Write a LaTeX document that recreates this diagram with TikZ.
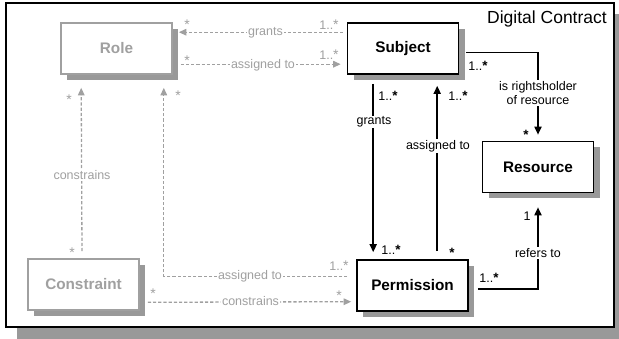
\documentclass[tikz,border=0pt]{standalone}
\usepackage{fontspec}
\setmainfont{Liberation Sans}
\usetikzlibrary{shadows,arrows.meta,calc}
\definecolor{shadowgray}{HTML}{999999}
\definecolor{lgray}{HTML}{A0A0A0}
\newcommand\mystar{{\fontsize{14}{14}\selectfont *}}
\newcommand\mybstar{{\fontsize{13.5}{14}\selectfont\bfseries *}}
\begin{document}
\begin{tikzpicture}[x=1pt,y=-1pt,
  box/.style={draw=black, line width=1.6pt, fill=white, minimum width=111pt, minimum height=51pt,
    font=\fontsize{15.3}{17}\selectfont\bfseries,
    drop shadow={shadow xshift=6pt,shadow yshift=-6pt,fill=shadowgray,opacity=1}},
  gbox/.style={box, draw=lgray, text=lgray},
  lbl/.style={font=\fontsize{12.5}{14.5}\selectfont, inner sep=1pt},
  glbl/.style={lbl, text=lgray},
  bg/.style={fill=white},
  gline/.style={draw=lgray, line width=1.3pt, dash pattern=on 3.2pt off 2pt},
  bline/.style={draw=black, line width=1.7pt},
  garr/.style={-{Triangle[length=7.5pt,width=6.5pt]}},
  barr/.style={-{Triangle[length=8pt,width=7pt]}}
]
\useasboundingbox (0,0) rectangle (619,339);
% frame
\fill[shadowgray] (17,14) rectangle (619,339);
\draw[line width=2pt, fill=white] (5.5,3.5) rectangle (613.5,327.5);
\node[anchor=east, inner sep=0pt, font=\fontsize{17.5}{19}\selectfont] (title) at (607,19) {Digital Contract};

% boxes
\node[gbox] (role) at (116.5,48.5) {Role};
\node[box] (subject) at (403,48.5) {Subject};
\node[box] (resource) at (538,167) {Resource};
\node[box] (perm) at (412.5,285.5) {Permission};
\node[gbox] (constraint) at (83.5,284.5) {Constraint};

% gray connectors
\draw[gline,garr] ($(subject.north west)+(-4,10)$) -- ($(role.north east)+(6,10)$);
\draw[gline,garr] ($(role.north east)+(8,42)$) -- ($(subject.north west)+(-6,42)$);
\draw[gline,garr] ($(constraint.north)+(-1.5,-7)$) -- ($(role.south west)+(21,13)$);
\draw[gline,garr] ($(perm.north west)+(-9,17)$) -| ($(role.south east)+(-9,13)$);
\draw[gline,garr] ($(constraint.south east)+(8,-8.5)$) -- ($(perm.north west)+(-5,42.5)$);

% black connectors
\draw[bline,barr] ($(subject.south west)+(26.5,9)$) -- ($(perm.north west)+(17,-7)$);
\draw[bline,barr] ($(perm.north west)+(81,-8)$) -- ($(subject.south west)+(90.5,11)$);
\draw[bline,barr] ($(subject.east)+(7,4)$) -| ($(resource.north)+(0,-6)$);
\draw[bline,barr] ($(perm.east)+(9,3.5)$) -| ($(resource.south)+(0,14)$);

% gray labels
\node[glbl,bg] (l1) at (265.5,33) {grants};
\node[glbl] (m1a) at (187,25) {\mystar};
\node[glbl] (m1b) at (329,25) {1..\mystar};
\node[glbl,bg] (l2) at (263,65) {assigned to};
\node[glbl] (m2a) at (187,61) {\mystar};
\node[glbl] (m2b) at (329,55) {1..\mystar};
\node[glbl,bg] (l3) at (82,175) {constrains};
\node[glbl] (m3a) at (69,100) {\mystar};
\node[glbl] (m3b) at (72,253) {\mystar};
\node[glbl,bg] (l4) at (250,276) {assigned to};
\node[glbl] (m4a) at (178,96) {\mystar};
\node[glbl] (m4b) at (339,266) {1..\mystar};
\node[glbl,bg] (l5) at (250.5,301.5) {constrains};
\node[glbl] (m5a) at (153,294) {\mystar};
\node[glbl] (m5b) at (339,296) {\mystar};

% black labels
\node[lbl,bg] (l6) at (374,122) {grants};
\node[lbl] (m6a) at (388,96) {1..\mybstar};
\node[lbl] (m6b) at (391,250) {1..\mybstar};
\node[lbl,bg] (l7) at (438,146) {assigned to};
\node[lbl] (m7a) at (458,96) {1..\mybstar};
\node[lbl] (m7b) at (452,253) {\mybstar};
\node[lbl,bg,align=center] (l8) at (538,93) {is rightsholder\\of resource};
\node[lbl] (m8a) at (478,66) {1..\mybstar};
\node[lbl] (m8b) at (526,135) {\mybstar};
\node[lbl,bg] (l9) at (538,253) {refers to};
\node[lbl] (m9a) at (489,278) {1..\mybstar};
\node[lbl] (m9b) at (527,216) {1};
\end{tikzpicture}
\end{document}
